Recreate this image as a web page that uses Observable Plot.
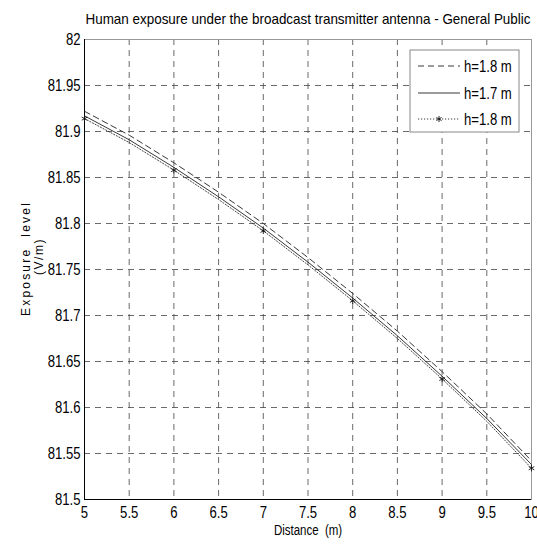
<!DOCTYPE html>
<html>
<head>
<meta charset="utf-8">
<script src="https://cdn.jsdelivr.net/npm/d3@7"></script>
<script src="https://cdn.jsdelivr.net/npm/@observablehq/plot@0.6"></script>
<style>
  html, body { margin: 0; padding: 0; background: #fff; }
  #chart svg { display: block; }
</style>
</head>
<body>
<div id="chart"></div>
<script>
const titleText = "Human exposure under the broadcast transmitter antenna - General Public";
const xLabel = "Distance\u00a0\u00a0(m)";
const yLabel1 = "Exposure\u00a0\u00a0level";
const yLabel2 = "(V/m)";

const distance = [5, 5.5, 6, 6.5, 7, 7.5, 8, 8.5, 9, 9.5, 10];
const seriesDashed = [81.922, 81.896, 81.866, 81.834, 81.800, 81.763, 81.724, 81.683, 81.639, 81.593, 81.542];
const seriesSolid  = [81.917, 81.891, 81.861, 81.829, 81.795, 81.758, 81.719, 81.678, 81.634, 81.588, 81.538];
const seriesDotted = [81.914, 81.888, 81.858, 81.826, 81.792, 81.755, 81.716, 81.675, 81.631, 81.585, 81.534];
const markerX = [5, 6, 7, 8, 9, 10];

const legendLabels = ["h=1.8 m", "h=1.7 m", "h=1.8 m"];

const xTicks = [5, 5.5, 6, 6.5, 7, 7.5, 8, 8.5, 9, 9.5, 10];
const xTickLabels = ["5", "5.5", "6", "6.5", "7", "7.5", "8", "8.5", "9", "9.5", "10"];
const yTicks = [81.5, 81.55, 81.6, 81.65, 81.7, 81.75, 81.8, 81.85, 81.9, 81.95, 82];
const yTickLabels = ["81.5", "81.55", "81.6", "81.65", "81.7", "81.75", "81.8", "81.85", "81.9", "81.95", "82"];

const dashedData = distance.map((d, i) => ({x: d, y: seriesDashed[i]}));
const solidData = distance.map((d, i) => ({x: d, y: seriesSolid[i]}));
const dottedData = distance.map((d, i) => ({x: d, y: seriesDotted[i]}));
const markerData = dottedData.filter(d => markerX.includes(d.x));

const FONT = "'Liberation Sans', Arial, sans-serif";
const W = 537, H = 544;
const mL = 84, mR = 6, mT = 39, mB = 45;

const chart = Plot.plot({
  width: W,
  height: H,
  marginLeft: mL,
  marginRight: mR,
  marginTop: mT,
  marginBottom: mB,
  style: {fontFamily: FONT, background: "#fff", color: "#000", overflow: "visible"},
  x: {domain: [5, 10], label: null},
  y: {domain: [81.5, 82], label: null},
  marks: [
    Plot.gridX(xTicks, {stroke: "#444", strokeOpacity: 1, strokeWidth: 0.8, strokeDasharray: "6,5"}),
    Plot.gridY(yTicks, {stroke: "#444", strokeOpacity: 1, strokeWidth: 0.8, strokeDasharray: "6,5"}),
    Plot.frame({stroke: "#999", strokeWidth: 1}),
    Plot.ruleX([5], {stroke: "#000", strokeWidth: 1}),
    Plot.ruleY([81.5], {stroke: "#000", strokeWidth: 1}),
    Plot.axisX({ticks: xTicks, tickFormat: (d, i) => xTickLabels[i], tickSize: 0, tickPadding: 7, fontSize: 16, label: null, className: "sq"}),
    Plot.axisY({ticks: yTicks, tickFormat: (d, i) => yTickLabels[i], tickSize: 0, tickPadding: 4, fontSize: 16, label: null, className: "sq"}),
    Plot.line(dashedData, {x: "x", y: "y", stroke: "#222", strokeWidth: 0.9, strokeDasharray: "6,4"}),
    Plot.line(solidData, {x: "x", y: "y", stroke: "#222", strokeWidth: 0.9}),
    Plot.line(dottedData, {x: "x", y: "y", stroke: "#333", strokeWidth: 0.9, strokeDasharray: "1.2,1.8"}),
    Plot.dot(markerData, {x: "x", y: "y", symbol: "asterisk", r: 3, stroke: "#111", strokeWidth: 0.9}),
    Plot.text([titleText], {frameAnchor: "top", lineAnchor: "middle", dy: -20, fontSize: 15, fill: "#000", className: "ttl"}),
    Plot.text([xLabel], {frameAnchor: "bottom", lineAnchor: "middle", dy: 31, fontSize: 14, fill: "#000", className: "sq"}),
    Plot.text([yLabel1], {frameAnchor: "left", textAnchor: "middle", lineAnchor: "middle", dx: -58, dy: -11, rotate: -90, fontSize: 12, fill: "#000", className: "yl1"}),
    Plot.text([yLabel2], {frameAnchor: "left", textAnchor: "middle", lineAnchor: "middle", dx: -45, dy: -13, rotate: -90, fontSize: 12, fill: "#000", className: "yl2"})
  ]
});

document.getElementById("chart").appendChild(chart);

function squeeze(el, f) {
  const L = el.getComputedTextLength();
  el.setAttribute("textLength", (L * f).toFixed(2));
  el.setAttribute("lengthAdjust", "spacingAndGlyphs");
}

const svg = d3.select(chart);
svg.selectAll("g.sq text").each(function() { squeeze(this, 0.82); });
svg.selectAll("g.ttl text").each(function() {
  this.setAttribute("textLength", 445);
  this.setAttribute("lengthAdjust", "spacingAndGlyphs");
});
svg.selectAll("g.yl1 text").style("letter-spacing", "2.2px");
svg.selectAll("g.yl2 text").style("letter-spacing", "1.5px");

// Legend (pixel-positioned annotation box)
const lg = svg.append("g").attr("font-family", FONT).attr("font-size", 16).attr("text-anchor", "start");
const bx = 410, by = 50, bw = 109, bh = 82;
lg.append("rect").attr("x", bx).attr("y", by).attr("width", bw).attr("height", bh)
  .attr("fill", "#fff").attr("stroke", "#888").attr("stroke-width", 1);
const rowsY = [66, 93, 119];
const styles = [
  {dash: "6,4"},
  {dash: null},
  {dash: "1.2,1.8", marker: true}
];
rowsY.forEach((ry, i) => {
  const l = lg.append("line").attr("x1", 418).attr("x2", 460).attr("y1", ry).attr("y2", ry)
    .attr("stroke", "#222").attr("stroke-width", 0.9);
  if (styles[i].dash) l.attr("stroke-dasharray", styles[i].dash);
  if (styles[i].marker) {
    const cx = 439, r = 3;
    for (let k = 0; k < 3; k++) {
      const a = Math.PI / 3 * k + Math.PI / 2;
      lg.append("line").attr("x1", cx + r * Math.cos(a)).attr("y1", ry + r * Math.sin(a))
        .attr("x2", cx - r * Math.cos(a)).attr("y2", ry - r * Math.sin(a))
        .attr("stroke", "#111").attr("stroke-width", 0.9);
    }
  }
  const t = lg.append("text").attr("x", 464).attr("y", ry).attr("dy", "0.35em").attr("fill", "#000").attr("text-anchor", "start").text(legendLabels[i]);
  squeeze(t.node(), 0.82);
});
</script>
</body>
</html>
